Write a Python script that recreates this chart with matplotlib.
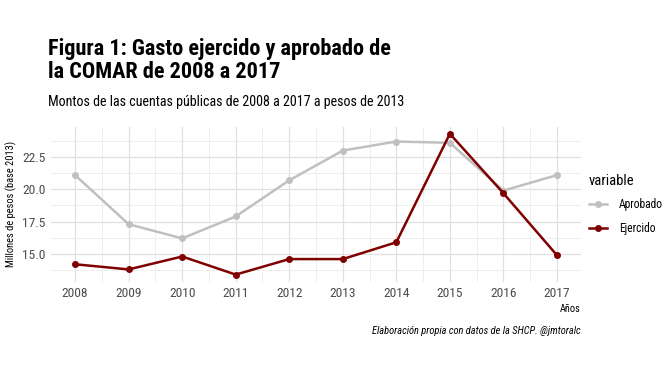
import matplotlib
matplotlib.use("Agg")
import matplotlib.pyplot as plt
from matplotlib.ticker import MultipleLocator

plt.rcParams['font.family'] = ['Roboto Condensed', 'DejaVu Sans']

# datos
anios = [2008, 2009, 2010, 2011, 2012, 2013, 2014, 2015, 2016, 2017]
aprobado = [21.1, 17.3, 16.2, 17.9, 20.7, 23.0, 23.7, 23.6, 19.9, 21.1]
ejercido = [14.2, 13.8, 14.8, 13.4, 14.6, 14.6, 15.9, 24.3, 19.7, 14.9]

fig = plt.figure(figsize=(6.65, 3.77), dpi=100)
ax = fig.add_axes([0.0767, 0.2528, 0.797, 0.4112])

ax.plot(anios, aprobado, color='#c0c0c0', lw=1.8, marker='o', ms=4, label='Aprobado', zorder=3)
ax.plot(anios, ejercido, color='#800000', lw=1.8, marker='o', ms=4, label='Ejercido', zorder=4)

ax.set_xlim(2007.55, 2017.45)
ax.set_ylim(12.85, 24.85)
ax.set_xticks(anios)
ax.xaxis.set_minor_locator(MultipleLocator(0.5))
ax.yaxis.set_major_locator(MultipleLocator(2.5))
ax.yaxis.set_minor_locator(MultipleLocator(1.25))
ax.yaxis.set_major_formatter(lambda v, p: '{:.1f}'.format(v))

#grid estilo theme_minimal
ax.grid(which='major', color='#e0e0e0', lw=0.9)
ax.grid(which='minor', color='#ebebeb', lw=0.6)
ax.set_axisbelow(True)
for s in ax.spines.values():
    s.set_visible(False)
ax.tick_params(which='both', length=0, labelsize=9.7, labelcolor='#4d4d4d', pad=4)

ax.set_ylabel('Millones de pesos (base 2013)', fontsize=7.5, labelpad=4)
ax.set_xlabel('Años', fontsize=7.5, loc='right', labelpad=3)

fig.text(0.072, 0.90, 'Figura 1: Gasto ejercido y aprobado de\nla COMAR de 2008 a 2017',
         fontsize=16, fontweight='bold', va='top', ha='left', linespacing=1.1)
fig.text(0.072, 0.73, 'Montos de las cuentas públicas de 2008 a 2017 a pesos de 2013',
         fontsize=10.1, va='center', ha='left')
fig.text(0.8737, 0.122, 'Elaboración propia con datos de la SHCP. @jmtoralc',
         fontsize=7.5, style='italic', va='center', ha='right')

leg = ax.legend(title='variable', loc='center left', bbox_to_anchor=(0.995, 0.50),
                frameon=False, fontsize=8.3, title_fontsize=10.5, handlelength=1.6,
                labelspacing=0.9, handletextpad=1.0)
leg._legend_box.align = 'left'

fig.savefig('out.png', dpi=100)
